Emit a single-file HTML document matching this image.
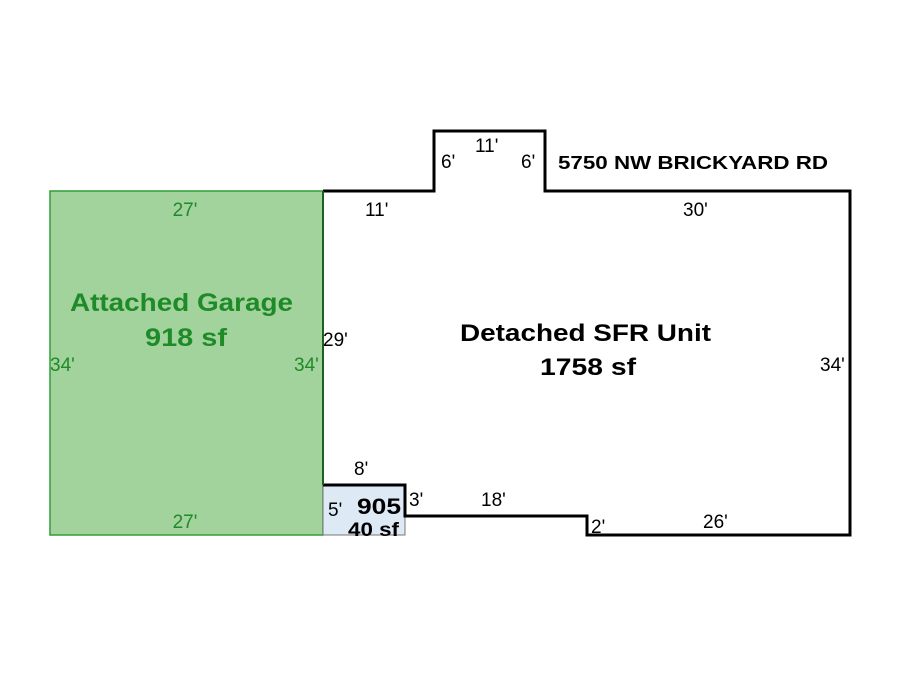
<!DOCTYPE html>
<html><head><style>body{margin:0;background:#fff} svg text{font-family:"Liberation Sans",Arial,sans-serif}</style></head><body>
<svg width="900" height="675" xmlns="http://www.w3.org/2000/svg">
<rect x="50" y="191" width="273" height="344" fill="#a3d39c" stroke="#2e9e3a" stroke-width="1.5"/>
<rect x="323" y="485" width="82" height="50" fill="#dde9f5" stroke="#777" stroke-width="1"/>
<polyline points="323,191 434,191 434,131 545,131 545,191 850,191 850,535 587,535 587,516 405,516 405,485 323,485" fill="none" stroke="#000" stroke-width="3"/>
<line x1="323" y1="191" x2="323" y2="485" stroke="#1f5f1f" stroke-width="2"/>
<g font-size="19" fill="#1e8a28">
<text x="185" y="216" text-anchor="middle">27'</text>
<text x="185" y="528" text-anchor="middle">27'</text>
<text x="50" y="371">34'</text>
<text x="294" y="371">34'</text>
</g>
<g font-size="25" font-weight="bold" fill="#1e8a28">
<text x="70" y="311" textLength="223" lengthAdjust="spacingAndGlyphs">Attached Garage</text>
<text x="145" y="346" textLength="82" lengthAdjust="spacingAndGlyphs">918 sf</text>
</g>
<g font-size="19" fill="#000">
<text x="475" y="152">11'</text>
<text x="441" y="168">6'</text>
<text x="521" y="168">6'</text>
<text x="365" y="216">11'</text>
<text x="683" y="216">30'</text>
<text x="323" y="346">29'</text>
<text x="820" y="371">34'</text>
<text x="354" y="475">8'</text>
<text x="328" y="516">5'</text>
<text x="409" y="506">3'</text>
<text x="481" y="506">18'</text>
<text x="591" y="533">2'</text>
<text x="703" y="528">26'</text>
</g>
<text x="558" y="169" font-size="18" font-weight="bold" textLength="270" lengthAdjust="spacingAndGlyphs">5750 NW BRICKYARD RD</text>
<g font-size="24" font-weight="bold">
<text x="460" y="341" textLength="251" lengthAdjust="spacingAndGlyphs">Detached SFR Unit</text>
<text x="540" y="375" textLength="96" lengthAdjust="spacingAndGlyphs">1758 sf</text>
</g>
<text x="357" y="514" font-size="22" font-weight="bold" textLength="44" lengthAdjust="spacingAndGlyphs">905</text>
<text x="348" y="536" font-size="19" font-weight="bold" textLength="51" lengthAdjust="spacingAndGlyphs">40 sf</text>
</svg>
</body></html>
